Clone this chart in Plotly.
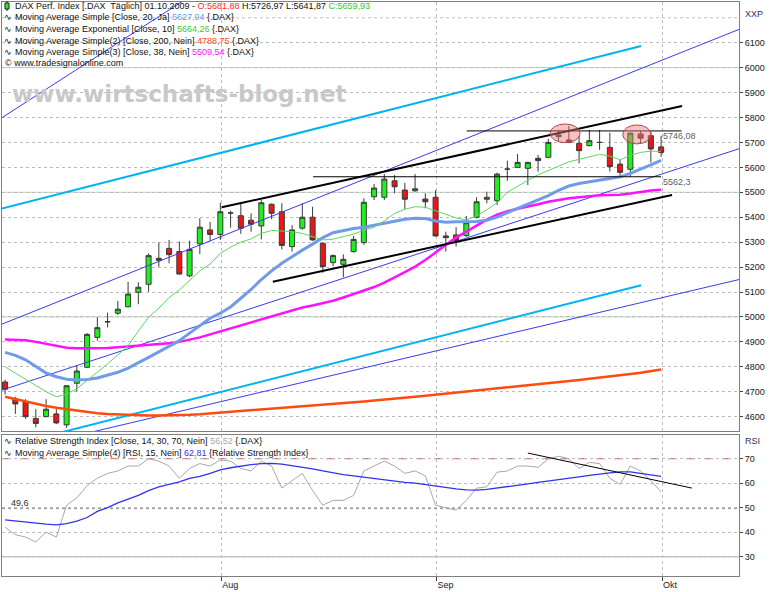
import plotly.graph_objects as go

# ---------------- data ----------------
opens = [4739, 4671, 4660, 4593, 4600, 4611, 4567, 4734, 4798, 4918,
         4980, 5015, 5041, 5099, 5131, 5235, 5275, 5262, 5165, 5293,
         5349, 5331, 5417, 5406, 5388, 5365, 5452, 5422, 5282, 5356,
         5400, 5295, 5218, 5211, 5262, 5298, 5482, 5480, 5546, 5509,
         5506, 5473, 5480, 5325, 5329, 5326, 5400, 5472, 5466, 5593,
         5600, 5596, 5636, 5640, 5723, 5710, 5696, 5687, 5700, 5680,
         5613, 5592, 5734, 5727, 5681.88]
highs = [4748, 4680, 4670, 4630, 4670, 4630, 4726, 4807, 4935, 4999,
         5017, 5064, 5141, 5139, 5255, 5298, 5309, 5303, 5306, 5396,
         5381, 5458, 5426, 5456, 5416, 5469, 5455, 5456, 5368, 5456,
         5442, 5300, 5251, 5251, 5325, 5476, 5533, 5573, 5569, 5538,
         5573, 5496, 5509, 5342, 5360, 5405, 5480, 5502, 5579, 5627,
         5654, 5622, 5650, 5714, 5750, 5766, 5726, 5750, 5750, 5739,
         5630, 5740, 5746.08, 5743, 5726.97]
lows = [4689, 4611, 4591, 4557, 4598, 4570, 4555, 4700, 4795, 4905,
        4958, 5008, 5038, 5051, 5101, 5201, 5215, 5170, 5159, 5252,
        5302, 5309, 5358, 5333, 5342, 5311, 5392, 5271, 5262, 5350,
        5305, 5177, 5204, 5159, 5258, 5289, 5469, 5469, 5496, 5432,
        5502, 5436, 5322, 5262, 5282, 5322, 5395, 5456, 5449, 5546,
        5598, 5529, 5583, 5638, 5703, 5698, 5616, 5685, 5670, 5583,
        5566, 5562.3, 5694, 5619, 5641.87]
closes = [4710, 4651, 4600, 4573, 4630, 4575, 4724, 4783, 4930, 4957,
          4981, 5031, 5092, 5119, 5246, 5227, 5250, 5172, 5271, 5360,
          5331, 5422, 5417, 5356, 5372, 5458, 5416, 5287, 5349, 5400,
          5309, 5202, 5246, 5231, 5311, 5460, 5517, 5553, 5522, 5472,
          5514, 5462, 5325, 5318, 5306, 5378, 5462, 5480, 5573, 5593,
          5620, 5620, 5627, 5700, 5730, 5700, 5667, 5707, 5700, 5603,
          5580, 5737, 5717, 5674, 5659.93]
bars = list(range(len(closes)))

sma20 = [4858, 4846, 4828, 4800, 4775, 4760, 4750, 4747, 4749, 4755,
         4766, 4778, 4795, 4815, 4838, 4860, 4881, 4905, 4935, 4965,
         4995, 5015, 5040, 5075, 5110, 5150, 5185, 5215, 5242, 5268,
         5292, 5318, 5338, 5348, 5355, 5360, 5368, 5378, 5386, 5392,
         5396, 5395, 5385, 5380, 5382, 5383, 5383, 5388, 5400, 5418,
         5435, 5450, 5470, 5487, 5508, 5525, 5535, 5542, 5550, 5556,
         5562, 5576, 5592, 5610, 5628]
ema10 = [4800, 4775, 4750, 4725, 4700, 4680, 4690, 4712, 4745, 4778,
         4812, 4848, 4885, 4943, 4999, 5035, 5078, 5108, 5145, 5185,
         5212, 5255, 5280, 5300, 5313, 5335, 5347, 5345, 5342, 5335,
         5322, 5309, 5312, 5322, 5332, 5348, 5360, 5385, 5415, 5432,
         5442, 5440, 5425, 5410, 5397, 5389, 5405, 5430, 5458, 5500,
         5525, 5548, 5570, 5588, 5605, 5622, 5632, 5642, 5652, 5645,
         5630, 5648, 5660, 5665, 5664]
sma200 = [4680, 4670, 4660, 4651, 4643, 4636, 4630, 4625, 4619, 4614,
          4611, 4609, 4607, 4606, 4605, 4605, 4605, 4606, 4608, 4610,
          4613, 4616, 4619, 4622, 4625, 4628, 4631, 4634, 4637, 4640,
          4643, 4647, 4650, 4654, 4657, 4661, 4665, 4668, 4672, 4676,
          4680, 4684, 4688, 4692, 4696, 4700, 4704, 4708, 4712, 4716,
          4720, 4725, 4729, 4734, 4738, 4743, 4747, 4752, 4756, 4761,
          4766, 4771, 4776, 4782, 4789]
sma38 = [4910, 4909, 4906, 4900, 4893, 4885, 4876, 4874, 4874, 4874,
         4875, 4878, 4881, 4884, 4887, 4890, 4894, 4900, 4908, 4918,
         4930, 4942, 4955, 4968, 4980, 4993, 5005, 5016, 5028, 5038,
         5046, 5055, 5065, 5078, 5092, 5106, 5120, 5138, 5158, 5180,
         5202, 5228, 5258, 5290, 5318, 5342, 5368, 5390, 5410, 5424,
         5434, 5442, 5452, 5462, 5470, 5476, 5480, 5485, 5488, 5489,
         5490, 5495, 5502, 5507, 5510]

rsi = [42, 39, 38, 36, 40, 38, 51, 54, 59, 62,
       64, 65, 67, 67, 70, 69, 67, 62, 66, 68,
       67, 69.5, 69, 66, 65, 69, 67, 58, 61, 64,
       57, 51, 53, 53, 55, 65, 67, 69, 67, 64,
       65, 63, 51, 50, 49, 53, 58, 58.5, 64.5, 65,
       67, 67, 66.5, 70, 71, 70, 66, 68.5, 68, 62,
       59.5, 67, 65, 61, 56.5]
rsi_ma = [45, 44.5, 44, 43.5, 43.3, 43, 43.5, 44.5, 46, 48.5,
          50, 52, 53.5, 55, 57, 58.5, 59.5, 60.5, 62, 62.8,
          64, 65.4, 66.3, 67, 67.6, 68, 68.1, 67.8, 67.2, 66.6,
          65.8, 65, 64.2, 63.5, 63, 62.4, 61.8, 61.2, 60.7, 60.3,
          60, 59.4, 58.7, 58.2, 57.7, 57.3, 57.2, 57.5, 58, 58.4,
          59, 59.7, 60.3, 60.8, 61.3, 62, 62.6, 63.2, 63.8, 64.2,
          64.6, 64.6, 64, 63.4, 62.8]

# first bar of each month (Aug 3, Sep 1, Oct 1)
month_ticks = [21.1, 42.1, 64.1]
month_labels = ["Aug", "Sep", "Okt"]
price_ticks = list(range(4600, 6101, 100))
rsi_ticks = [30, 40, 50, 60, 70]

# drawn lines: ((bar, price), (bar, price))
cyan_lines = [((-0.5, 5433), (62.05, 6087)), ((5.0, 4532), (62.05, 5127))]
blue_lines = [((-0.5, 5794), (19.0, 6311)), ((-0.5, 4968), (71.7, 6155)),
              ((-0.5, 4704), (71.7, 5676)), ((7.6, 4530), (71.7, 5151))]
black_lines = [((21.14, 5440), (66.05, 5846)), ((26.12, 5141), (65.07, 5489))]
level_lines = [(45.04, 66.0, 5746.08, "5746,08"), (30.05, 64.0, 5562.3, "5562,3")]
ellipses = [(53.17, 56.1, 5699, 5774), (60.26, 63.02, 5694, 5770)]
rsi_trend = ((51.0, 72.3), (67.0, 58.0))
rsi_level = 49.6

# header values
ohlc_text = ["5681,88", "5726,97", "5641,87", "5659,93"]
ma_values = ["5627,94", "5664,26", "4788,75", "5509,54"]
rsi_values = ["56,52", "62,81"]

# ---------------- figure ----------------
W, H = 770, 592
ML, MR, MT, MB = 2, 31, 2, 16
PW, PH = W - ML - MR, H - MT - MB


def px(x):
    return (x - ML) / PW


def py(y):
    return (H - MB - y) / PH


fig = go.Figure()

# channel / fan lines
for (a, b) in cyan_lines:
    fig.add_trace(go.Scatter(x=[a[0], b[0]], y=[a[1], b[1]], mode="lines",
                             line=dict(color="#00b4f0", width=2),
                             xaxis="x2", yaxis="y", hoverinfo="skip"))
for (a, b) in blue_lines:
    fig.add_trace(go.Scatter(x=[a[0], b[0]], y=[a[1], b[1]], mode="lines",
                             line=dict(color="#3a3af0", width=1),
                             xaxis="x2", yaxis="y", hoverinfo="skip"))

# moving averages
fig.add_trace(go.Scatter(x=bars, y=sma200, mode="lines", line=dict(color="#ff4a10", width=2.5),
                         xaxis="x2", yaxis="y"))
fig.add_trace(go.Scatter(x=bars, y=sma38, mode="lines", line=dict(color="#ff10ff", width=2.5),
                         xaxis="x2", yaxis="y"))
fig.add_trace(go.Scatter(x=bars, y=sma20, mode="lines", line=dict(color="#6f9be8", width=3),
                         xaxis="x2", yaxis="y"))
fig.add_trace(go.Scatter(x=bars, y=ema10, mode="lines", line=dict(color="#5fd65f", width=1),
                         xaxis="x2", yaxis="y"))

# candles
fig.add_trace(go.Candlestick(
    x=bars, open=opens, high=highs, low=lows, close=closes,
    xaxis="x2", yaxis="y", whiskerwidth=0,
    increasing=dict(fillcolor="#1ef01e", line=dict(color="#3a3a3a", width=1)),
    decreasing=dict(fillcolor="#f01414", line=dict(color="#3a3a3a", width=1)),
    showlegend=False))

# black trend lines
for (a, b) in black_lines:
    fig.add_trace(go.Scatter(x=[a[0], b[0]], y=[a[1], b[1]], mode="lines",
                             line=dict(color="#000000", width=2),
                             xaxis="x2", yaxis="y", hoverinfo="skip"))
for (x0, x1, lvl, lab) in level_lines:
    fig.add_trace(go.Scatter(x=[x0, x1], y=[lvl, lvl], mode="lines",
                             line=dict(color="#000000", width=1),
                             xaxis="x2", yaxis="y", hoverinfo="skip"))

# RSI panel
fig.add_trace(go.Scatter(x=bars, y=rsi, mode="lines", line=dict(color="#a8a8a8", width=1),
                         xaxis="x", yaxis="y2"))
fig.add_trace(go.Scatter(x=bars, y=rsi_ma, mode="lines", line=dict(color="#3232ee", width=1.3),
                         xaxis="x", yaxis="y2"))
fig.add_trace(go.Scatter(x=[rsi_trend[0][0], rsi_trend[1][0]], y=[rsi_trend[0][1], rsi_trend[1][1]],
                         mode="lines", line=dict(color="#000000", width=1),
                         xaxis="x", yaxis="y2"))

shapes = []
# solid light green lines at round levels
for lv in (5000, 5500, 6000):
    shapes.append(dict(type="line", xref="x2 domain", yref="y", x0=0, x1=1, y0=lv, y1=lv,
                       line=dict(color="#b8d4b8", width=1), layer="below"))
shapes.append(dict(type="line", xref="x2 domain", yref="y", x0=0, x1=1, y0=6200, y1=6200,
                   line=dict(color="#c0c0c0", width=1, dash="dot"), layer="below"))
shapes.append(dict(type="line", xref="x domain", yref="y2", x0=0, x1=1, y0=30, y1=30,
                   line=dict(color="#b8d4b8", width=1.5), layer="below"))
shapes.append(dict(type="line", xref="x domain", yref="y2", x0=0, x1=1, y0=70, y1=70,
                   line=dict(color="#ee6a6a", width=1.3, dash="dash"), layer="below"))
shapes.append(dict(type="line", xref="x domain", yref="y2", x0=0, x1=1, y0=rsi_level, y1=rsi_level,
                   line=dict(color="#909090", width=1, dash="dot"), layer="below"))
for (x0, x1, y0, y1) in ellipses:
    shapes.append(dict(type="circle", xref="x2", yref="y", x0=x0, x1=x1, y0=y0, y1=y1,
                       fillcolor="rgba(236,120,120,0.45)", line=dict(color="#b04848", width=1),
                       layer="above"))
# small candle icon in header
shapes.append(dict(type="line", xref="paper", yref="paper", x0=px(7), x1=px(7), y0=py(1), y1=py(11),
                   line=dict(color="#202020", width=1)))
shapes.append(dict(type="rect", xref="paper", yref="paper", x0=px(5), x1=px(9), y0=py(3), y1=py(9),
                   fillcolor="#1ef01e", line=dict(color="#202020", width=1)))

FONT = "Liberation Sans"
annotations = []


def head(y, text, x=13.3, size=9):
    annotations.append(dict(xref="paper", yref="paper", x=px(x), y=py(y), text=text,
                            xanchor="left", yanchor="middle", showarrow=False,
                            font=dict(family=FONT, size=size, color="#101010")))


wave = "<span style='font-family:DejaVu Sans'>∿</span>"
head(6, "DAX Perf. Index [.DAX  Täglich] 01.10.2009 - "
        f"<span style='color:#ff2a2a'>O:{ohlc_text[0]}</span> H:{ohlc_text[1]} L:{ohlc_text[2]} "
        f"<span style='color:#2ec82e'>C:{ohlc_text[3]}</span>")
head(17.5, f"Moving Average Simple [Close, 20, Ja] <span style='color:#6f9be8'>{ma_values[0]}</span> {{.DAX}}")
head(29.3, f"Moving Average Exponential [Close, 10] <span style='color:#3cc83c'>{ma_values[1]}</span> {{.DAX}}")
head(41, f"Moving Average Simple(2) [Close, 200, Nein] <span style='color:#ff4a10'>{ma_values[2]}</span> {{.DAX}}")
head(52.3, f"Moving Average Simple(3) [Close, 38, Nein] <span style='color:#ff10ff'>{ma_values[3]}</span> {{.DAX}}")
head(63.5, "© www.tradesignalonline.com", x=2.5)
for yy in (17.5, 29.3, 41, 52.3):
    head(yy, wave, x=2, size=9)
head(441, f"Relative Strength Index [Close, 14, 30, 70, Nein] <span style='color:#a8a8a8'>{rsi_values[0]}</span> {{.DAX}}")
head(453, f"Moving Average Simple(4) [RSI, 15, Nein] <span style='color:#3232ee'>{rsi_values[1]}</span> {{Relative Strength Index}}")
for yy in (441, 453):
    head(yy, wave, x=2, size=9)

# watermark
annotations.append(dict(xref="paper", yref="paper", x=px(178.5), y=py(94),
                        text="<b>www.wirtschafts-blog.net</b>", showarrow=False,
                        xanchor="center", yanchor="middle",
                        font=dict(family="DejaVu Sans", size=23, color="#c8c8c8")))
# axis captions
annotations.append(dict(xref="paper", yref="paper", x=px(743), y=py(14), text="XXP",
                        showarrow=False, xanchor="left", yanchor="middle",
                        font=dict(family=FONT, size=9, color="#303060")))
annotations.append(dict(xref="paper", yref="paper", x=px(743), y=py(441), text="RSI",
                        showarrow=False, xanchor="left", yanchor="middle",
                        font=dict(family=FONT, size=9, color="#303060")))
# level labels
for (x0, x1, lvl, lab) in level_lines:
    annotations.append(dict(xref="x2", yref="y", x=64.0, y=lvl - 20, text=lab,
                            showarrow=False, xanchor="left", yanchor="middle",
                            font=dict(family=FONT, size=9, color="#606060")))
annotations.append(dict(xref="paper", yref="y2", x=px(9), y=rsi_level + 2.3, text="49,6",
                        showarrow=False, xanchor="left", yanchor="middle",
                        font=dict(family=FONT, size=9, color="#303030")))

grid = dict(showgrid=True, gridcolor="#bcbcbc", griddash="dot", gridwidth=1, zeroline=False)
main_bottom = py(431)
rsi_top = py(435)

fig.update_layout(
    width=W, height=H,
    margin=dict(l=ML, r=MR, t=MT, b=MB, autoexpand=False),
    paper_bgcolor="white", plot_bgcolor="white",
    showlegend=False,
    font=dict(family=FONT, size=9, color="#202020"),
    shapes=shapes, annotations=annotations,
    xaxis=dict(domain=[0, 1], anchor="y2", range=[-0.3, 71.6],
               tickmode="array", tickvals=month_ticks, ticktext=month_labels,
               ticks="outside", ticklen=4, tickcolor="#404040",
               ticklabelposition="outside right", automargin=False,
               showline=True, linecolor="#808080", mirror=True,
               rangeslider=dict(visible=False), **grid),
    xaxis2=dict(domain=[0, 1], anchor="y", matches="x", showticklabels=False,
                tickmode="array", tickvals=month_ticks, ticks="",
                showline=True, linecolor="#808080", mirror=True,
                rangeslider=dict(visible=False), **grid),
    yaxis=dict(domain=[main_bottom, 1], anchor="x2", side="right", range=[4542.5, 6263.2],
               tickmode="array", tickvals=price_ticks, ticks="outside", ticklen=3,
               tickcolor="#404040", automargin=False,
               showline=True, linecolor="#808080", mirror=True, **grid),
    yaxis2=dict(domain=[0, rsi_top], anchor="x", side="right", range=[22.12, 79.67],
                tickmode="array", tickvals=rsi_ticks, ticks="outside", ticklen=3,
                tickcolor="#404040", automargin=False,
                showline=True, linecolor="#808080", mirror=True, **grid),
)

fig.write_html("out.html", config={"displayModeBar": False},
               post_script="document.body.style.margin='0';document.body.style.overflow='hidden';")
